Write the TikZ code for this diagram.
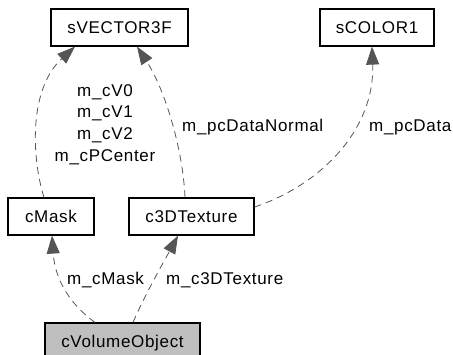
\documentclass[tikz,border=0pt]{standalone}
\usepackage{fontspec}
\setmainfont[LetterSpace=4]{Liberation Sans}
\usetikzlibrary{arrows.meta}
\definecolor{edgegray}{HTML}{555555}
\definecolor{boxgray}{HTML}{BFBFBF}

\begin{document}
\begin{tikzpicture}[x=1pt,y=-1pt,
    every node/.style={font=\fontsize{17}{21.7}\selectfont},
    classbox/.style={draw,line width=1.2pt,minimum height=37pt,inner sep=0pt,text height=12pt,text depth=0pt},
    member/.style={dashed,dash pattern=on 7pt off 5pt,edgegray,line width=0.8pt},
    tip/.style={-{Triangle[length=18pt,width=13pt]}},
    lbl/.style={anchor=base west,inner sep=0pt}]
                \useasboundingbox (0,0) rectangle (453,355);
                \node[classbox,minimum width=137pt] (vec) at (119.5,27.5) {sVECTOR3F};
                \node[classbox,minimum width=114pt] (col) at (377,27.5) {sCOLOR1};
                \node[classbox,minimum width=86pt] (mask) at (51,216.5) {cMask};
                \node[classbox,minimum width=125pt] (tex) at (191.5,216.5) {c3DTexture};
                \node[classbox,minimum width=155pt,fill=boxgray] (vol) at (122.5,341.5) {cVolumeObject};
                % members
                \draw[member,tip] ([xshift=-7pt]mask.north) .. controls +(-12,-38) and +(-47,43) .. ([xshift=-44.5pt]vec.south);
                \draw[member,tip] ([xshift=-6.5pt]tex.north) .. controls +(-2,-48) and +(28,43) .. ([xshift=17.5pt]vec.south);
                \draw[member,tip] ([yshift=9.5pt]tex.east) .. controls +(66,-22) and +(3,83) .. ([xshift=-5pt]col.south);
                \draw[member,tip] ([xshift=-27.5pt]vol.north) .. controls +(-25,-18) and +(3,44) .. ([xshift=1pt]mask.south);
                \draw[member,tip] ([xshift=10.5pt]vol.north) .. controls +(12,-28) and +(-13,24) .. ([xshift=-13.5pt]tex.south);
                % labels
                \node[align=center,inner sep=0pt] (vlbl) at (105,124.5) {m\_cV0\\m\_cV1\\m\_cV2\\m\_cPCenter};
                \node[lbl] (nlbl) at (182,132) {m\_pcDataNormal};
                \node[lbl] (dlbl) at (369,132) {m\_pcData};
                \node[lbl] (mlbl) at (67,285) {m\_cMask};
                \node[lbl] (tlbl) at (166,285) {m\_c3DTexture};
    \end{tikzpicture}
\end{document}
